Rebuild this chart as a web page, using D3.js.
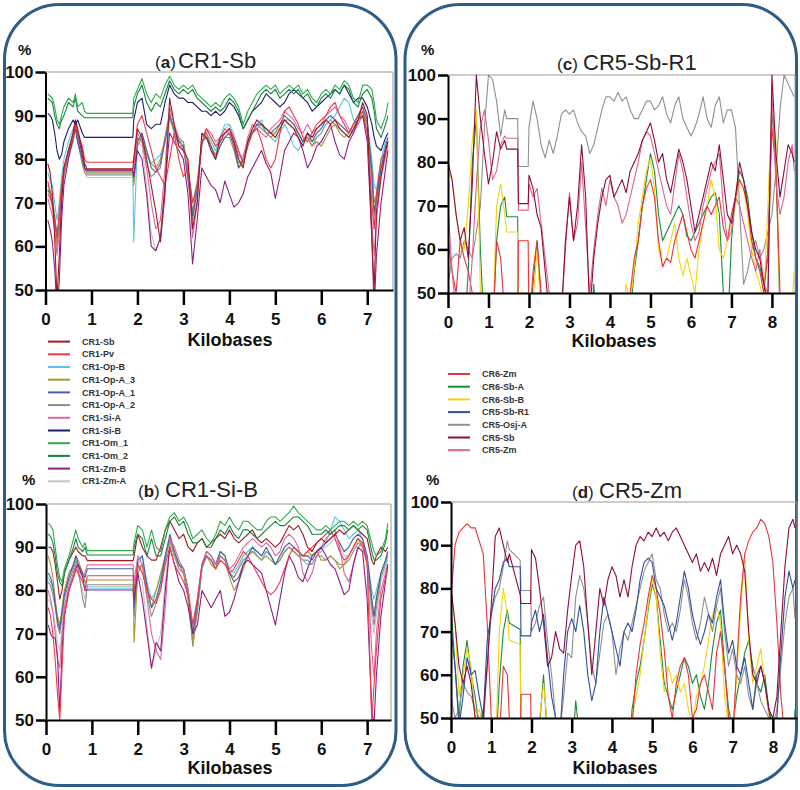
<!DOCTYPE html>
<html><head><meta charset="utf-8">
<script src="https://cdn.jsdelivr.net/npm/d3@7"></script>
<style>body{margin:0;background:#fff}svg{display:block}</style>
</head><body>
<svg id="chart" width="800" height="790"></svg>
<script>
// ---------------- DATA ----------------
// x positions (kilobases) for panels (a) and (b)
const kbA = [0.05,0.1,0.15,0.2,0.25,0.3,0.35,0.4,0.5,0.6,0.65,0.7,0.8,0.85,0.9,0.95,1.9,1.92,
 2.0,2.1,2.2,2.3,2.4,2.5,2.6,2.7,2.8,2.9,3.0,3.1,3.2,3.3,3.4,3.5,3.6,3.7,3.8,3.9,
 4.0,4.1,4.2,4.3,4.4,4.5,4.6,4.7,4.8,4.9,5.0,5.1,5.2,5.3,5.4,5.5,5.6,5.7,5.8,5.9,
 6.0,6.1,6.2,6.3,6.4,6.5,6.6,6.7,6.8,6.9,7.0,7.1,7.15,7.2,7.3,7.4,7.45];
// x positions (kilobases) for panels (c) and (d)
const kbC = [0,0.1,0.2,0.3,0.4,0.5,0.6,0.7,0.8,0.9,1.0,1.1,1.2,1.3,1.4,1.45,1.72,1.74,1.98,
 2.0,2.1,2.2,2.3,2.4,2.5,2.6,2.7,2.8,2.9,3.0,3.1,3.2,3.3,3.4,3.5,3.6,3.7,3.8,3.9,
 4.0,4.1,4.2,4.3,4.4,4.5,4.6,4.7,4.8,4.9,5.0,5.1,5.2,5.3,5.4,5.5,5.6,5.7,5.8,5.9,
 6.0,6.1,6.2,6.3,6.4,6.5,6.6,6.7,6.8,6.9,7.0,7.1,7.2,7.3,7.4,7.5,7.6,7.7,7.8,7.9,
 8.0,8.1,8.2,8.3,8.4,8.5,8.55];

const yTicks = [50,60,70,80,90,100];
const xTicksAB = [0,1,2,3,4,5,6,7];
const xTicksCD = [0,1,2,3,4,5,6,7,8];

const legendCR1 = ["CR1-Sb","CR1-Pv","CR1-Op-B","CR1-Op-A_3","CR1-Op-A_1","CR1-Op-A_2","CR1-Si-A","CR1-Si-B","CR1-Om_1","CR1-Om_2","CR1-Zm-B","CR1-Zm-A"];
const legendCR5 = ["CR6-Zm","CR6-Sb-A","CR6-Sb-B","CR5-Sb-R1","CR5-Osj-A","CR5-Sb","CR5-Zm"];

// ---- panel (a) CR1-Sb : % identity ----
const aSb = [79,77,72,62,48,58,70,78,82,86,89,87,82,79,77.8,77.8,77.8,80,
 87,85,80,74,68,61,72,94,88,83, 82,80,64,70,86,85,82,80,85,86, 87,84,80,78,84,87,89,88,87,86,
 85,87,89,88,87,85,83,86,85,87, 88,89,88,89,87,86,85,87,89,93, 90,62,50,68,76,82,84];
const aPv = [75,72,69,66,62,68,74,78,82,85,88,86,83,80,79.3,79.3,79.3,80,
 88,90,86,82,78,76,74,80,86,80, 76,78,70,74,83,87,85,83,84,86, 87,85,82,79,83,86,87,84,80,78,
 80,86,91,92,90,88,85,84,86,88, 89,90,92,93,90,88,86,88,90,91, 86,70,64,72,80,82,84];
const aOpB = [77,75,74,70,66,70,76,80,84,87,88,85,80,78,76.8,76.8,76.8,61,
 84,86,82,79,80,81,84,89,87,85, 84,78,70,75,84,86,84,82,85,88, 88,85,80,81,84,86,88,89,86,85,
 84,86,88,86,83,82,84,86,84,85, 86,88,89,90,92,94,93,89,88,90, 88,80,74,73,80,84,85];
const aOpA3 = [74,73,71,67,60,65,72,76,81,84,87,84,80,78,77,77,77,74,
 83,85,81,79,78,80,85,90,86,84, 84,77,68,74,84,86,83,81,84,85, 85,82,78,79,83,86,87,88,86,85,
 86,88,89,88,87,86,84,85,83,84, 83,85,87,88,86,85,86,88,89,91, 88,78,70,72,78,82,83];
const aOpA1 = [73,72,70,66,62,66,73,77,82,85,87,84,80,78,77.3,77.3,77.3,76,
 84,86,82,78,77,79,84,90,87,84, 83,76,67,73,84,85,83,80,83,85, 86,83,78,80,84,86,88,88,87,86,
 87,88,90,89,88,86,84,86,84,86, 87,89,90,89,88,87,86,88,90,92, 89,77,68,71,78,83,85];
const aOpA2 = [72,71,70,67,63,66,72,77,81,85,88,84,79,77,76.4,76.4,76.4,75,
 85,84,79,76,77,78,85,91,86,83, 83,75,66,73,84,86,83,80,84,86, 86,83,79,80,84,86,88,87,86,86,
 86,88,89,89,88,86,84,85,83,85, 86,88,89,88,87,86,85,87,89,91, 88,76,67,70,78,82,84];
const aSiA = [71,69,67,64,58,63,71,77,82,86,89,86,81,78,77.6,77.6,77.6,78,
 86,84,78,70,64,66,78,92,88,85, 82,78,62,70,85,87,86,84,85,87, 86,84,81,80,85,88,87,86,85,87,
 88,89,91,90,89,87,86,88,86,87, 88,90,91,92,90,89,87,86,88,90, 86,66,58,66,76,81,83];
const aSiB = [90.5,90,89,86,82,80,81,84,87,89,88,89,86,85,85,85,85,89,
 93,94,88,87,88,88,93,97,95,94, 94,93,93,92,91,91,90,91,90,91, 93,92,90,87,89,91,92,93,95,94,
 93,92,93,95,96,95,94,93,91,92, 93,94,95,96,95,97,95,93,94,94, 92,88,85,83,82,85,86];
const aOm1 = [95,94.5,94,92,89,88,90,92,94,93,95,92,93,91,90.5,90.5,90.5,94,
 96,98.5,95,93,95,94,97,99,97,96, 97,96,97,95,94,93,92,93,92,94, 95,94,92,88,91,93,95,96,97,96,
 97,95,96,97,96,97,95,96,94,93, 95,96,95,97,96,98,97,94,93,97, 97,96,93,89,87,90,93];
const aOm2 = [94,93.5,93,90,88,87,89,90,93,92,94,91,90,89.5,89.5,89.5,89.5,92,
 95,97,93,91,93,92,95,98,96,95, 96,95,96,94,93,92,91,92,91,92, 94,93,91,87,89,91,93,95,96,95,
 96,94,95,96,95,96,94,95,93,92, 94,95,94,96,95,97,96,93,92,95, 96,94,91,87,85,88,90];
const aZmB = [66,64,61,55,45,52,66,74,80,85,88,86,81,78,77.5,77.5,77.5,76,
 82,80,72,60,59,62,74,86,84,82, 80,72,56,66,78,76,74,73,70,75, 72,69,70,72,76,78,80,82,79,77,
 71,76,82,84,86,85,82,78,80,83, 84,86,88,84,81,80,84,86,89,90, 84,62,45,58,70,78,82];
const aZmA = [73,71,69,65,60,64,71,76,80,84,87,84,79,77,75.8,75.8,75.8,76,
 84,83,74,63,59,62,76,90,86,84, 83,79,64,72,84,87,85,83,85,87, 88,86,82,80,84,87,89,88,86,86,
 85,87,89,88,87,86,84,86,85,86, 87,89,90,89,88,87,86,88,90,92, 88,74,64,68,76,80,82];

// ---- panel (b) CR1-Si-B ----
const bSb = [90,90,89,86,82,78,80,84,87,89,90,89,88,88,86.9,86.9,86.9,88,
 93,90,88,87,87,90,94,96,94,92, 93,90,89,91,92,90,91,92,93,92, 94,92,91,92,93,94,92,91,92,91,
 90,91,93,95,94,95,93,90,89,91, 92,91,92,93,94,93,94,95,94,93, 92,87,86,88,90,89,90];
const bPv = [76,74,70,64,56,50,62,74,80,83,85,84,82,80,83.4,83.4,83.4,80,
 86,84,80,78,77,80,86,90,86,84, 82,79,72,78,86,88,87,85,87,86, 84,85,87,89,88,86,84,82,80,79,
 80,82,85,88,90,89,88,89,90,91, 92,93,94,92,89,87,88,90,92,91, 86,50,58,66,78,83,85];
const bOpB = [83,82,80,77,74,72,75,79,83,86,87,86,83,82,80.5,80.5,80.5,78,
 86,88,82,78,80,83,88,92,88,86, 85,80,70,76,85,88,87,86,89,88, 85,84,86,88,89,90,88,87,89,88,
 86,87,89,90,89,88,87,86,86,88, 89,91,94,97,96,94,92,93,94,92, 88,80,78,80,84,86,88];
const bOpA3 = [88,86,83,78,74,72,76,80,84,86,88,87,84,82,82.4,82.4,82.4,68,
 84,86,80,76,80,84,88,92,88,86, 84,78,68,76,86,88,86,85,88,87, 83,80,82,85,88,89,88,87,88,87,
 86,87,89,90,89,88,88,89,88,89, 87,87,88,87,85,86,88,90,92,90, 87,78,74,78,84,87,89];
const bOpA1 = [84,83,81,77,73,71,75,79,83,86,88,86,84,83,85,85,85,76,
 87,88,81,76,78,82,88,93,89,86, 85,80,70,77,86,89,88,86,89,88, 84,82,83,86,88,90,89,88,90,88,
 86,88,90,91,90,89,88,88,87,89, 90,91,92,93,91,89,90,92,93,92, 88,78,74,78,84,87,89];
const bOpA2 = [82,81,79,76,72,70,74,78,82,85,87,85,78,76,81.3,81.3,81.3,74,
 85,86,79,74,77,81,87,92,88,85, 84,78,67,75,85,88,87,85,88,87, 84,83,85,87,88,89,88,87,89,88,
 86,87,89,90,89,88,87,87,86,88, 88,87,88,87,86,86,87,89,91,90, 86,76,72,76,83,86,88];
const bSiA = [80,78,75,70,64,62,70,76,81,84,86,85,83,84,85.9,85.9,85.9,82,
 88,86,78,70,66,64,76,92,90,87, 85,80,72,78,86,89,88,86,88,87, 85,86,88,90,91,92,91,90,91,90,
 88,89,92,93,92,90,84,82,84,88, 90,92,93,94,90,84,82,86,90,91, 87,66,60,70,80,84,86];
const bOm1 = [95.5,95,94,90,86,83,82,85,88,92,94,92,90,91,89.2,89.2,89.2,91,
 95,94,90,94,90,89,94,97,98,96, 97,95,92,93,94,92,91,93,96,95, 97,95,94,96,96,95,94,94,96,97,
 97,96,97,98,99.5,98,97,96,95,94, 94,95,94,95,96,96,95,96,95,96, 95,91,89,88,89,92,95.5];
const bOm2 = [93,92.5,91,88,84,82,81,84,87,90,92,90,89,90,88.2,88.2,88.2,90,
 93,92,88,92,88,88,92,96,97,95, 96,93,91,91,92,90,90,92,94,93, 95,93,92,94,94,93,92,93,94,95,
 96,95,95,96,97,97,96,95,93,93, 93,94,93,94,95,95,94,95,94,95, 94,89,87,87,88,91,94];
const bZmB = [72,70,69,69,65,52,66,74,80,83,85,86,83,80,80.1,80.1,80.1,78,
 84,78,70,62,68,66,80,90,86,82, 80,76,70,72,80,78,76,78,80,74, 75,78,82,86,87,86,85,84,80,76,
 72,78,84,88,86,83,82,85,88,89, 90,88,86,85,82,79,80,86,90,89, 78,52,49,60,74,82,86];
const bZmA = [78,77,75,72,68,66,71,76,80,84,86,84,80,78,80.9,80.9,80.9,74,
 84,82,72,62,66,70,82,91,88,85, 84,79,69,76,85,88,87,85,88,87, 84,83,85,88,89,90,89,88,89,88,
 86,88,90,91,90,89,88,88,88,89, 90,90,91,92,90,88,88,90,92,91, 87,74,70,74,82,85,87];

// ---- panel (c) CR5-Sb-R1 ----
const cZm6 = [62,55,50,62,58,55,50,45,40,40,40,40,62,58,45,40,40,62,62,
 40,55,62,50,40,40,40,40,40,40, 40,40,40,40,40,40,40,40,40,40, 40,40,40,40,45,50,58,62,70,74,
 76,72,62,56,58,57,62,65,68,64, 60,58,62,66,70,68,70,72,65,62, 68,72,76,74,70,62,58,55,50,60,
 88,78,50,40,40,40,40];
const cSbA = [40,40,40,40,40,55,80,90,60,40,40,40,62,70,72,67.5,67.5,40,40,
 40,52,62,48,40,40,40,40,40,40, 40,40,40,40,40,40,52,40,40,40, 40,40,40,40,40,45,55,62,70,76,
 82,78,68,62,64,66,68,70,68,63, 62,64,66,68,70,72,73,68,50,40, 62,72,78,76,72,64,58,56,52,58,
 92,80,45,40,40,40,40];
const cSbB = [78,76,68,62,60,70,85,92,50,40,40,40,70,75,68,64,64,40,40,
 40,48,60,45,40,40,40,40,40,40, 40,40,40,40,40,40,40,40,40,40, 40,40,40,40,52,48,56,66,72,78,
 81,74,60,56,58,62,66,58,54,58, 54,50,60,66,70,76,72,60,58,62, 66,70,76,74,68,60,55,52,48,70,
 93,85,45,40,40,48,55];
const cOsj = [52,58,59,58,62,60,58,64,70,88,100,99,94,86,92,90,90,79,79,
 88,94,90,84,81,85,82,86,91,92, 91,92,89,87,86,82,84,88,92,95, 95,94,96,94,95,92,90,90,92,94,
 94,92,93,95,91,89,93,95,90,88, 86,88,91,95,90,88,93,95,89,92, 92,88,70,52,55,60,62,58,60,64,
 68,78,92,100,98,96,95];
const cSb5 = [80,76,68,62,65,58,75,100,90,82,75,80,87,83,85,83,83,70.5,70.5,
 77,74,68,65,55,45,40,40,45,62, 72,62,70,84,72,45,58,66,72,76, 77,72,74,76,73,78,80,82,85,87,
 89,85,80,82,76,73,78,83,80,76, 70,64,68,72,76,80,78,84,76,68, 66,72,80,76,70,64,60,58,52,48,
 100,82,72,78,84,82,80];
const cZm5 = [70,55,45,40,40,45,58,75,88,92,85,76,78,84,86,85.5,85.5,69,69,
 75,72,74,66,58,50,40,40,45,60, 73,62,66,80,65,50,60,68,74,70, 76,72,70,66,68,72,76,80,85,87,
 86,82,78,74,70,68,75,82,78,72, 66,62,64,70,74,78,80,82,70,62, 64,72,70,66,62,58,55,60,52,50,
 96,75,68,72,80,84,78];

// ---- panel (d) CR5-Zm ----
const dZm6 = [78,90,93,94,95,94,94,91,88,72,50,40,45,62,60,50,40,55.5,55.5,
 40,40,40,50,45,40,40,40,40,40, 40,40,40,40,40,40,40,40,40,40, 40,40,40,40,40,48,60,67,72,78,
 83,80,74,66,55,50,58,62,64,60, 50,52,58,60,56,52,65,70,62,50, 45,62,78,88,91,93,94,96,95,92,
 86,72,55,45,40,40,40];
const dSbA = [76,62,50,62,68,60,55,48,52,40,40,40,58,70,75,72,70.5,40,40,
 40,40,48,60,45,40,40,40,48,40, 40,54,45,40,40,40,40,40,40,40, 40,40,40,40,40,52,58,62,68,75,
 81,78,68,58,55,52,56,60,64,62, 58,60,55,52,58,66,72,75,62,52, 48,55,60,65,68,62,58,56,60,52,
 48,44,40,40,40,40,52];
const dSbB = [80,72,55,60,66,62,50,52,48,40,40,40,70,80,74,68,67,40,40,
 40,40,50,58,48,40,40,40,40,40, 40,48,40,40,40,40,40,40,40,40, 40,40,40,40,40,50,55,60,68,76,
 82,78,65,56,62,58,60,56,58,52, 48,55,58,62,68,74,76,72,55,48, 45,60,75,88,68,58,62,66,58,50,
 45,40,40,40,40,40,40];
const dR1 = [70.5,62,48,55,64,60,61,55,50,68,74,80,82,86,87,85,85,69,69,
 72,75,70,74,64,55,50,45,60,70, 73,70,76,70,60,54,58,70,78,74, 70,66,62,70,72,70,75,82,86,87,
 86,80,78,76,72,68,72,78,84,80, 74,70,67,70,74,72,78,82,72,65, 68,62,60,64,58,52,60,62,58,52,
 46,50,65,78,84,80,82];
const dOsj = [55,50,52,58,56,55,52,50,48,62,74,78,80,85,91,89,86.5,79.5,79.5,
 70,72,76,78,68,60,50,46,55,65, 64,78,83,80,72,62,58,65,72,74, 70,60,66,70,68,72,76,80,84,86,
 88,82,80,74,70,72,70,75,82,78, 72,68,72,78,74,70,76,80,70,62, 66,60,58,62,55,52,58,54,52,50,
 48,52,62,72,78,80,73];
const dSb5 = [80,72,62,58,62,58,50,45,50,62,76,92,94,90,86,88,78.5,76.5,76.5,
 89,87,80,72,62,64,70,66,65,75, 83,90,91,85,72,60,70,80,76,82, 85,83,78,82,78,85,90,92,91,93,
 92,94,92,93,91,93,94,92,90,88, 86,88,84,86,84,87,83,88,90,92, 88,90,88,84,70,60,58,62,58,52,
 50,55,70,85,94,96,94];

// ---------------- STYLE ----------------
const col = {
  "CR1-Sb":"#9b1c22","CR1-Pv":"#ec3b48","CR1-Op-B":"#5cc4e0","CR1-Op-A_3":"#a9962c",
  "CR1-Op-A_1":"#4a5ea8","CR1-Op-A_2":"#8c8c8c","CR1-Si-A":"#e0649c","CR1-Si-B":"#1c1f6b",
  "CR1-Om_1":"#2eaa4a","CR1-Om_2":"#17823f","CR1-Zm-B":"#8e1f80","CR1-Zm-A":"#c4c4c4",
  "CR6-Zm":"#e8343c","CR6-Sb-A":"#1a8a40","CR6-Sb-B":"#f5d312","CR5-Sb-R1":"#2e4f9e",
  "CR5-Osj-A":"#8f8f8f","CR5-Sb":"#8c0c3c","CR5-Zm":"#dc6490"
};
const FONT = "'Liberation Sans', Arial, sans-serif";

const panels = [
  {letter:"a", name:"CR1-Sb", kb:kbA, xmax:7.56, x0:45.5, x1:393, top:72, bot:290, ticks:xTicksAB,
   titleX:155, nameX:178, titleY:68, pctX:18, pctY:55, kbX:230, kbY:346,
   series:[["CR1-Zm-A",aZmA],["CR1-Op-A_2",aOpA2],["CR1-Op-B",aOpB],["CR1-Op-A_3",aOpA3],["CR1-Op-A_1",aOpA1],
           ["CR1-Si-A",aSiA],["CR1-Zm-B",aZmB],["CR1-Pv",aPv],["CR1-Sb",aSb],["CR1-Si-B",aSiB],["CR1-Om_2",aOm2],["CR1-Om_1",aOm1]]},
  {letter:"b", name:"CR1-Si-B", kb:kbA, xmax:7.52, x0:46, x1:391, top:504, bot:720, ticks:xTicksAB,
   titleX:138, nameX:165, titleY:497, pctX:22, pctY:485, kbX:230, kbY:774,
   series:[["CR1-Zm-A",bZmA],["CR1-Op-A_2",bOpA2],["CR1-Op-B",bOpB],["CR1-Op-A_3",bOpA3],["CR1-Op-A_1",bOpA1],
           ["CR1-Si-A",bSiA],["CR1-Zm-B",bZmB],["CR1-Pv",bPv],["CR1-Sb",bSb],["CR1-Om_2",bOm2],["CR1-Om_1",bOm1]]},
  {letter:"c", name:"CR5-Sb-R1", kb:kbC, xmax:8.57, x0:448, x1:795, top:75, bot:293, ticks:xTicksCD,
   titleX:557, nameX:583, titleY:70, pctX:421, pctY:55, kbX:614, kbY:347,
   series:[["CR5-Osj-A",cOsj],["CR6-Sb-A",cSbA],["CR6-Sb-B",cSbB],["CR6-Zm",cZm6],["CR5-Zm",cZm5],["CR5-Sb",cSb5]]},
  {letter:"d", name:"CR5-Zm", kb:kbC, xmax:8.6, x0:451, x1:797, top:502, bot:718, ticks:xTicksCD,
   titleX:572, nameX:599, titleY:498, pctX:426, pctY:485, kbX:615, kbY:774,
   series:[["CR6-Sb-A",dSbA],["CR6-Sb-B",dSbB],["CR6-Zm",dZm6],["CR5-Osj-A",dOsj],["CR5-Sb-R1",dR1],["CR5-Sb",dSb5]]}
];

// ---------------- DRAW ----------------
const svg = d3.select("#chart");
svg.append("rect").attr("width",800).attr("height",790).attr("fill","#fff");

// rounded panel borders
[[4.5,4.5],[405,4.5]].forEach(([x,y])=>{
  svg.append("rect").attr("x",x).attr("y",y).attr("width",391.5).attr("height",781)
    .attr("rx",55).attr("ry",55).attr("fill","none").attr("stroke","#2d5d86").attr("stroke-width",3);
});

panels.forEach(p=>{
  const x = d3.scaleLinear().domain([0,p.xmax]).range([p.x0,p.x1]);
  const y = d3.scaleLinear().domain([50,100]).range([p.bot,p.top]);
  const g = svg.append("g");
  const cid = "clip-"+p.letter;
  svg.append("clipPath").attr("id",cid).append("rect")
    .attr("x",p.x0).attr("y",p.top-1).attr("width",p.x1-p.x0).attr("height",p.bot-p.top+1);

  // frame (top & right)
  g.append("path").attr("d",`M${p.x0},${p.top}H${p.x1}V${p.bot}`)
    .attr("fill","none").attr("stroke","#9a9a9a").attr("stroke-width",1);

  // lines
  const line = d3.line().x(d=>x(d[0])).y(d=>y(d[1]));
  const lg = g.append("g").attr("clip-path",`url(#${cid})`);
  p.series.forEach(([name,vals])=>{
    const pts = vals.map((v,i)=>[p.kb[i],v]).filter(d=>d[0]!==undefined);
    lg.append("path").datum(pts).attr("d",line).attr("fill","none")
      .attr("stroke",col[name]).attr("stroke-width",1.1).attr("stroke-linejoin","round");
  });

  // axes
  const ax = g.append("g").attr("transform",`translate(0,${p.bot})`)
    .call(d3.axisBottom(x).tickValues(p.ticks).tickFormat(d3.format("d")).tickSize(15).tickPadding(8).tickSizeOuter(0));
  const ay = g.append("g").attr("transform",`translate(${p.x0},0)`)
    .call(d3.axisLeft(y).tickValues(yTicks).tickSize(10).tickPadding(2).tickSizeOuter(0));
  [ax,ay].forEach(a=>{
    a.select(".domain").attr("stroke","#000").attr("stroke-width",2);
    a.selectAll(".tick line").attr("stroke","#000").attr("stroke-width",2.5);
    a.selectAll("text").attr("font-family",FONT).attr("font-weight","bold").attr("font-size",17).attr("fill","#111");
  });

  // labels
  g.append("text").attr("x",p.kbX).attr("y",p.kbY).attr("text-anchor","middle")
    .attr("font-family",FONT).attr("font-weight","bold").attr("font-size",18).attr("fill","#111").text("Kilobases");
  g.append("text").attr("x",p.pctX).attr("y",p.pctY)
    .attr("font-family",FONT).attr("font-weight","bold").attr("font-size",15).attr("fill","#111").text("%");
  const t = g.append("text").attr("x",p.titleX).attr("y",p.titleY)
    .attr("font-family",FONT).attr("font-size",17).attr("fill","#222");
  t.append("tspan").text("(");
  t.append("tspan").attr("font-weight","bold").text(p.letter);
  t.append("tspan").text(")");
  g.append("text").attr("x",p.nameX).attr("y",p.titleY)
    .attr("font-family",FONT).attr("font-size",22).attr("fill","#222").text(p.name);
});

// legends
function legend(names, lx, ty){
  const g = svg.append("g");
  names.forEach((n,i)=>{
    const yy = ty + i*12.7;
    g.append("line").attr("x1",lx).attr("x2",lx+22).attr("y1",yy).attr("y2",yy)
      .attr("stroke",col[n]).attr("stroke-width",2);
    g.append("text").attr("x",lx+34).attr("y",yy).attr("dy","0.35em")
      .attr("font-family",FONT).attr("font-weight","bold").attr("font-size",9).attr("fill","#333").text(n);
  });
}
legend(legendCR1, 48, 341.6);
legend(legendCR5, 448, 374);
</script>
</body></html>
